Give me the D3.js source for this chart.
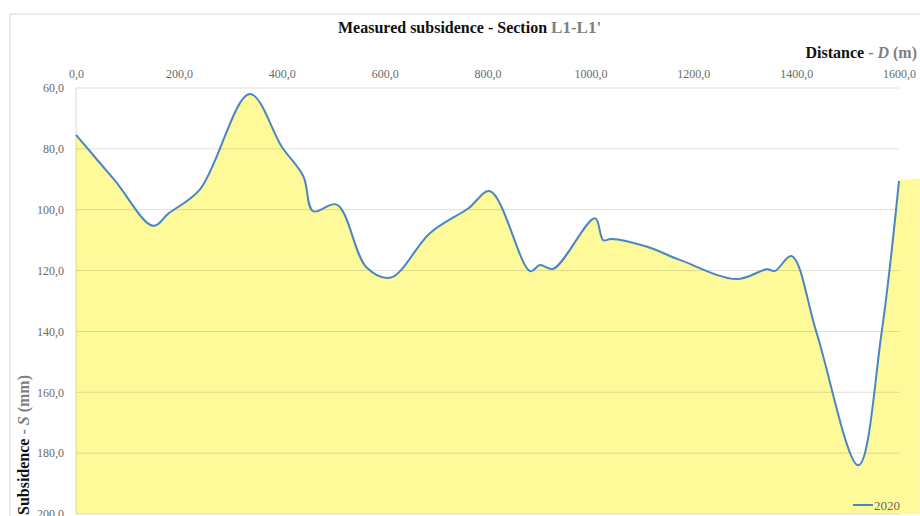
<!DOCTYPE html>
<html>
<head>
<meta charset="utf-8">
<script src="https://cdn.jsdelivr.net/npm/d3@7"></script>
<style>
  body { margin: 0; background: #fff; }
  svg { font-family: "Liberation Serif", "DejaVu Serif", serif; }
</style>
</head>
<body>
<div id="chart"></div>
<script>
// measured profile, distance (m) and subsidence (mm)
var distance   = [0, 75, 150, 180, 241, 338, 400, 442, 461, 507, 565, 612, 688, 763, 805, 883, 902, 928, 1009, 1025, 1041, 1109, 1174, 1284, 1343, 1359, 1391, 1440, 1521, 1566, 1600];
var subsidence = [75.4, 90.3, 105.3, 101.2, 93.3, 62, 79.3, 89, 100.5, 98.3, 119, 122.3, 107.7, 99.5, 93.9, 120.2, 118.2, 119.4, 102.8, 110, 109.6, 112.1, 116.5, 122.8, 119.6, 120.1, 115.2, 140.6, 184, 140.6, 90.5];
// the filled area runs a little past the plot on the right
var fillDistance   = [1600, 1640];
var fillSubsidence = [90.5, 89.8];
var xTicks = [0, 200, 400, 600, 800, 1000, 1200, 1400, 1600];
var yTicks = [60, 80, 100, 120, 140, 160, 180, 200];
var seriesName = "2020";

var chartWidth = 920, chartHeight = 516;
var plotLeft = 76, plotRight = 899, plotTop = 88, plotBottom = 514;

var svg = d3.select("#chart").append("svg").attr("width", chartWidth).attr("height", chartHeight);

// chart frame
svg.append("rect").attr("x", 10).attr("y", 14).attr("width", 930).attr("height", 530)
    .style("fill", "#fff").style("stroke", "#d9d9d9");

var x = d3.scaleLinear().domain([0, 1600]).range([plotLeft, plotRight]);
var y = d3.scaleLinear().domain([60, 200]).range([plotTop, plotBottom]);

var line = distance.map(function(d, i) { return [d, subsidence[i]]; });
var tail = fillDistance.map(function(d, i) { return [d, fillSubsidence[i]]; });

var curve = d3.curveCatmullRom.alpha(0.5);
var area = d3.area().x(function(d) { return x(d[0]); }).y0(y(200)).y1(function(d) { return y(d[1]); });

svg.append("path").attr("d", area.curve(curve)(line)).style("fill", "#fefa99");
svg.append("path").attr("d", area.curve(d3.curveLinear)(tail)).style("fill", "#fefa99")
    .style("stroke", "#fefa99").style("stroke-width", 0.6);

// grid
svg.append("g").selectAll("line").data(yTicks).enter().append("line")
    .attr("x1", plotLeft).attr("x2", plotRight)
    .attr("y1", function(d) { return y(d); }).attr("y2", function(d) { return y(d); })
    .style("stroke", "#000").style("stroke-opacity", 0.13);
svg.append("line").attr("x1", plotLeft).attr("x2", plotLeft).attr("y1", plotTop).attr("y2", plotBottom)
    .style("stroke", "#000").style("stroke-opacity", 0.15);

var fmt = function(d) { return d.toFixed(1).replace(".", ","); };

var xAxis = svg.append("g").attr("transform", "translate(0," + plotTop + ")")
    .call(d3.axisTop(x).tickValues(xTicks).tickSize(0).tickPadding(10).tickFormat(fmt));
var yAxis = svg.append("g").attr("transform", "translate(" + plotLeft + ",0)")
    .call(d3.axisLeft(y).tickValues(yTicks).tickSize(0).tickPadding(12).tickFormat(fmt));
[xAxis, yAxis].forEach(function(a) {
    a.select(".domain").remove();
    a.selectAll("text").style("font-family", "Liberation Serif").style("font-size", "12px").style("fill", "#6b6b6b");
});

svg.append("path")
    .attr("d", d3.line().x(function(d) { return x(d[0]); }).y(function(d) { return y(d[1]); }).curve(curve)(line))
    .style("fill", "none").style("stroke", "#4a86c2").style("stroke-width", 2);

// title
var title = svg.append("text").attr("x", 338).attr("y", 33).style("font-size", "16px").style("font-weight", "bold");
title.append("tspan").text("Measured subsidence - Section ").style("fill", "#111");
title.append("tspan").text("L1-L1'").style("fill", "#808080").style("font-size", "17px");

// x axis title
var xt = svg.append("text").attr("x", 917).attr("y", 58).attr("text-anchor", "end")
    .style("font-size", "16px").style("font-weight", "bold");
xt.append("tspan").text("Distance ").style("fill", "#111");
xt.append("tspan").text("- ").style("fill", "#7f7f7f");
xt.append("tspan").text("D").style("fill", "#7f7f7f").style("font-style", "italic");
xt.append("tspan").text(" (m)").style("fill", "#7f7f7f");

// y axis title
var yt = svg.append("text").attr("transform", "translate(29,515) rotate(-90)")
    .style("font-size", "16px").style("font-weight", "bold");
yt.append("tspan").text("Subsidence ").style("fill", "#111");
yt.append("tspan").text("- ").style("fill", "#7f7f7f");
yt.append("tspan").text("S").style("fill", "#7f7f7f").style("font-style", "italic");
yt.append("tspan").text(" (mm)").style("fill", "#7f7f7f");

// legend
svg.append("line").attr("x1", 853).attr("x2", 873).attr("y1", 505).attr("y2", 505)
    .style("stroke", "#4a86c2").style("stroke-width", 2);
svg.append("text").attr("x", 874).attr("y", 510).text(seriesName)
    .style("font-size", "13px").style("fill", "#666");
</script>
</body>
</html>
